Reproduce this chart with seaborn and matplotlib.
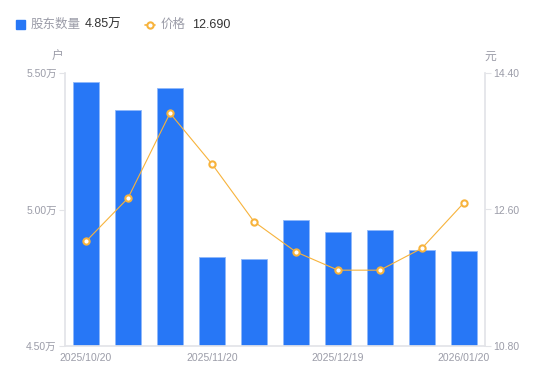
import matplotlib
matplotlib.use("Agg")
import matplotlib.pyplot as plt
import seaborn as sns
import numpy as np
from matplotlib.lines import Line2D
from matplotlib.patches import Rectangle

# Data
dates = ["2025/10/20", "2025/10/31", "2025/11/10", "2025/11/20", "2025/11/30",
         "2025/12/10", "2025/12/19", "2025/12/31", "2026/01/09", "2026/01/20"]
holders = [5.467, 5.364, 5.445, 4.826, 4.819, 4.962, 4.918, 4.925, 4.852, 4.848]  # 万户
price = [12.18, 12.75, 13.87, 13.20, 12.44, 12.04, 11.80, 11.80, 12.09, 12.69]  # 元
shown_ticks = ["2025/10/20", "2025/11/20", "2025/12/19", "2026/01/20"]

sns.set_theme(style="white")
plt.rcParams["font.family"] = ["Liberation Sans", "Noto Sans CJK SC", "DejaVu Sans"]

BLUE = "#2777f6"
ORANGE = "#f7b33c"
GREY = "#9b9ca8"
AXIS = "#e3e4e8"

fig = plt.figure(figsize=(5.5, 3.81), dpi=100)
ax = fig.add_axes([65 / 550, 1 - 346 / 381, 420 / 550, 273 / 381])

sns.barplot(x=dates, y=holders, ax=ax, color=BLUE, width=0.6,
            saturation=1, edgecolor="#8fb8fb", linewidth=0.6)
ax.set_ylim(4.5, 5.5)
ax.set_xlim(-0.5, len(dates) - 0.5)
ax.set_yticks([4.5, 5.0, 5.5])
ax.set_yticklabels(["4.50万", "5.00万", "5.50万"])
ax.set_xticks([dates.index(d) for d in shown_ticks])
ax.set_xticklabels(shown_ticks)
ax.set_xlabel("")
ax.set_ylabel("")

ax2 = ax.twinx()
sns.lineplot(x=np.arange(len(price)), y=price, ax=ax2, color=ORANGE, linewidth=0.8,
             marker="o", markersize=4.5, markerfacecolor="white",
             markeredgecolor=ORANGE, markeredgewidth=1.5)
ax2.set_ylim(10.8, 14.4)
ax2.set_yticks([10.8, 12.6, 14.4])
ax2.set_yticklabels(["10.80", "12.60", "14.40"])
ax2.set_ylabel("")

for a in (ax, ax2):
    for s in a.spines.values():
        s.set_visible(False)
    a.tick_params(axis="both", colors=GREY, labelsize=7.5, length=4, width=0.8,
                  color=AXIS, pad=2)
    a.grid(False)
ax.spines["left"].set_visible(True)
ax.spines["left"].set_color(AXIS)
ax.spines["bottom"].set_visible(True)
ax.spines["bottom"].set_color(AXIS)
ax2.spines["right"].set_visible(True)
ax2.spines["right"].set_color(AXIS)
ax.tick_params(axis="x", length=0, pad=5)
ax2.tick_params(axis="x", length=0)

# Unit labels
fig.text(58 / 550, 1 - 57 / 381, "户", color=GREY, fontsize=8.5, ha="center", va="center")
fig.text(490 / 550, 1 - 57 / 381, "元", color=GREY, fontsize=8.5, ha="center", va="center")

# Header legend
fig.patches.append(Rectangle((16 / 550, 1 - 29 / 381), 9 / 550, 9 / 381,
                             transform=fig.transFigure, color=BLUE, figure=fig))
fig.text(31 / 550, 1 - 24.5 / 381, "股东数量", color=GREY, fontsize=9, va="center")
fig.text(85 / 550, 1 - 24.5 / 381, "4.85万", color="#333333", fontsize=9, va="center")
fig.lines.append(Line2D([145 / 550, 155 / 550], [1 - 24.5 / 381, 1 - 24.5 / 381],
                        transform=fig.transFigure, color=ORANGE, linewidth=1.2,
                        marker="o", markevery=[0], markersize=0))
fig.lines.append(Line2D([150 / 550], [1 - 24.5 / 381], transform=fig.transFigure,
                        color=ORANGE, marker="o", markersize=4.5,
                        markerfacecolor="white", markeredgewidth=1.5))
fig.text(161 / 550, 1 - 24.5 / 381, "价格", color=GREY, fontsize=9, va="center")
fig.text(192 / 550, 1 - 24.5 / 381, "12.690", color="#333333", fontsize=9, va="center")

fig.savefig("out.png", dpi=100)
